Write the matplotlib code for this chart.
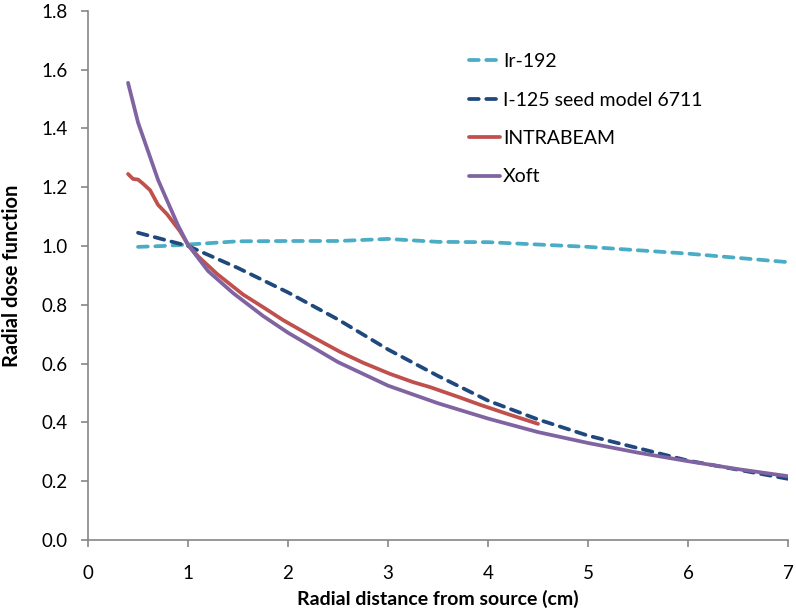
import matplotlib.pyplot as plt
from matplotlib.ticker import FormatStrFormatter, MultipleLocator

# ------------------------ #
# DATA
# ------------------------ #

ir_r = [0.5, 0.75, 1.0, 1.5, 2.0, 2.5, 3.0, 3.5, 4.0, 5.0, 6.0, 7.0]
ir_g = [0.997, 1.0, 1.005, 1.016, 1.017, 1.017, 1.024, 1.014, 1.013, 0.997, 0.974, 0.945]

i125_r = [0.5, 1.0, 1.5, 2.0, 2.5, 3.0, 3.5, 4.0, 4.5, 5.0, 6.0, 7.0]
i125_g = [1.045, 1.0, 0.925, 0.842, 0.75, 0.648, 0.558, 0.474, 0.41, 0.355, 0.27, 0.208]

intra_r = [0.4, 0.45, 0.5, 0.55, 0.62, 0.7, 0.79, 0.92, 1.0, 1.1, 1.29, 1.55, 1.75,
           1.95, 2.25, 2.52, 2.75, 3.02, 3.25, 3.42, 3.7, 3.92, 4.2, 4.5]
intra_g = [1.245, 1.228, 1.226, 1.212, 1.19, 1.14, 1.108, 1.05, 1.004, 0.965, 0.905, 0.835, 0.792,
           0.748, 0.69, 0.64, 0.603, 0.565, 0.537, 0.52, 0.487, 0.46, 0.428, 0.395]

xoft_r = [0.4, 0.5, 0.62, 0.7, 0.79, 0.9, 1.0, 1.2, 1.45, 1.75, 2.0, 2.5, 3.0,
          3.5, 4.0, 4.5, 5.0, 5.5, 6.0, 6.5, 7.0]
xoft_g = [1.555, 1.42, 1.303, 1.225, 1.155, 1.07, 1.004, 0.915, 0.84, 0.762, 0.705, 0.605, 0.525,
          0.465, 0.413, 0.367, 0.33, 0.297, 0.268, 0.241, 0.217]

labels = ["Ir-192", "I-125 seed model 6711", "INTRABEAM", "Xoft"]

# ------------------------ #
# PLOTTING
# ------------------------ #

plt.rcParams["font.family"] = ["Lato", "DejaVu Sans"]

fig = plt.figure(figsize=(7.96, 6.09), dpi=100)
ax = fig.add_axes([0.1106, 0.1133, 0.8794, 0.869])

style = dict(lw=2.7, solid_capstyle="round", dash_capstyle="round")
ax.plot(ir_r, ir_g, color="#4bacc6", dashes=(2.6, 2.0), label=labels[0], **style)
ax.plot(i125_r, i125_g, color="#1f497d", dashes=(2.6, 2.0), label=labels[1], **style)
ax.plot(intra_r, intra_g, color="#c0504d", label=labels[2], **style)
ax.plot(xoft_r, xoft_g, color="#8064a2", label=labels[3], **style)

ax.set(xlim=[0, 7], ylim=[0, 1.8])
ax.xaxis.set_major_locator(MultipleLocator(1))
ax.yaxis.set_major_locator(MultipleLocator(0.2))
ax.yaxis.set_major_formatter(FormatStrFormatter("%.1f"))

for side in ["top", "right"]:
    ax.spines[side].set_visible(False)
for side in ["left", "bottom"]:
    ax.spines[side].set_color("#868686")
    ax.spines[side].set_linewidth(1.2)
ax.tick_params(direction="out", length=5, width=1.2, color="#868686", labelsize=13.5)
ax.tick_params(axis="x", pad=13)
ax.tick_params(axis="y", pad=10)

ax.set_xlabel("Radial distance from source (cm)", fontsize=14, fontweight="bold")
ax.set_ylabel("Radial dose function", fontsize=14.5, fontweight="bold")
ax.xaxis.set_label_coords(0.5, -0.094)
ax.yaxis.set_label_coords(-0.094, 0.5)

ax.legend(loc="upper left", bbox_to_anchor=(0.519, 0.953), frameon=False,
          fontsize=14, handlelength=1.6, handletextpad=0.15, labelspacing=1.1)

plt.savefig("out.png", dpi=100)
